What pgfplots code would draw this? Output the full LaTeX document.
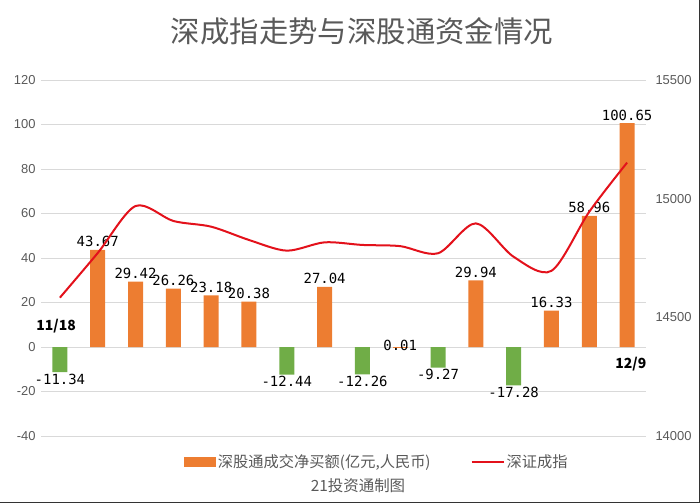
\documentclass[border=0pt]{standalone}
\usepackage{pgfplots}
\pgfplotsset{compat=1.18}
\usepackage{pgfplotstable}
\usepackage{fontspec}
\setmainfont{Noto Sans CJK SC}
\newfontfamily\tickfont{Liberation Sans}
\newfontfamily\monofont{DejaVu Sans Mono}
\definecolor{barorange}{HTML}{ED7D31}
\definecolor{bargreen}{HTML}{70AD47}
\definecolor{linered}{HTML}{E3111B}
\definecolor{gridgray}{HTML}{D9D9D9}
\definecolor{textgray}{HTML}{595959}

\pgfplotstableread{
x y lab
1 43.67 43.67
2 29.42 29.42
3 26.26 26.26
4 23.18 23.18
5 20.38 20.38
7 27.04 27.04
11 29.94 29.94
13 16.33 16.33
14 58.96 58.96
15 100.65 100.65
}\pos
\pgfplotstableread{
x y lab
9 0.01 0.01
}\zero
\pgfplotstableread{
x y lab
0 -11.34 -11.34
6 -12.44 -12.44
8 -12.26 -12.26
10 -9.27 -9.27
12 -17.28 -17.28
}\neg
\pgfplotstableread{
x y
0 14583
1 14771
2 14969
3 14906
4 14882
5 14826
6 14781
7 14816
8 14805
9 14800
10 14770
11 14896
12 14755
13 14696
14 14945
15 15152
}\idx

\begin{document}
\begin{tikzpicture}[x=1bp,y=1bp]
\path[use as bounding box] (0,0) rectangle (700,-503);
\draw[line width=1.5bp,black!80] (700,0) -- (700,-503) -- (0,-503);
\node[text=textgray,font=\fontsize{29.5}{31}\selectfont] at (362,-31) {深成指走势与深股通资金情况};

\begin{axis}[
  at={(41bp,-80bp)}, anchor=north west,
  scale only axis, width=605bp, height=356bp,
  xmin=-0.5, xmax=15.5, ymin=-40, ymax=120,
  ytick={-40,-20,0,20,40,60,80,100,120},
  xtick=\empty,
  axis line style={draw=none},
  major tick length=0pt,
  ymajorgrids, grid style={gridgray, line width=0.8bp},
  /pgf/number format/assume math mode=true,
  yticklabel style={font=\tickfont\fontsize{13}{14}\selectfont, text=textgray, xshift=-2bp},
  ybar, bar width=15bp,
  point meta=explicit symbolic,
  nodes near coords,
  every node near coord/.append style={font=\monofont\fontsize{14}{15}\selectfont, text=black, inner sep=2.5bp},
  clip=false,
  legend columns=2,
  legend style={at={(0.555,-0.073)}, anchor=center, draw=none, fill=none,
     font=\fontsize{15.3}{17}\selectfont, text=textgray,
     /tikz/every even column/.append style={column sep=38bp}},
  legend image code/.code={\fill[#1] (0bp,-5bp) rectangle (32bp,5bp);},
]
\addplot[fill=barorange, draw=none, bar shift=0pt,
  every node near coord/.append style={anchor=south}] table[x=x,y=y,meta=lab] {\pos};
\addlegendentry{深股通成交净买额(亿元,人民币)}
\addplot[fill=barorange, draw=none, bar shift=0pt, forget plot,
  every node near coord/.append style={anchor=center, yshift=2bp}] table[x=x,y=y,meta=lab] {\zero};
\addplot[fill=bargreen, draw=none, bar shift=0pt, forget plot,
  every node near coord/.append style={anchor=north, inner sep=1.5bp}] table[x=x,y=y,meta=lab] {\neg};
\addlegendimage{legend image code/.code={\draw[linered, line width=2bp] (0bp,0bp) -- (32bp,0bp);}}
\addlegendentry{深证成指}
\node[font=\bfseries\fontsize{14}{15}\selectfont] at (axis cs:-0.1,9.5) {11/18};
\node[font=\bfseries\fontsize{14}{15}\selectfont] at (axis cs:15.1,-7.5) {12/9};
\end{axis}

\begin{axis}[
  at={(41bp,-80bp)}, anchor=north west,
  scale only axis, width=605bp, height=356bp,
  xmin=-0.5, xmax=15.5, ymin=14000, ymax=15500,
  ytick={14000,14500,15000,15500},
  scaled y ticks=false,
  axis y line*=right, axis x line=none,
  axis line style={draw=none},
  major tick length=0pt,
  /pgf/number format/assume math mode=true,
  /pgf/number format/set thousands separator={},
  yticklabel style={font=\tickfont\fontsize{13}{14}\selectfont, text=textgray, anchor=west, xshift=6bp},
]
\addplot[linered, line width=2bp, smooth, tension=0.5, mark=none] table[x=x,y=y] {\idx};
\end{axis}

\node[text=textgray, font=\fontsize{15.5}{17}\selectfont] at (358,-486) {21投资通制图};
\end{tikzpicture}
\end{document}
